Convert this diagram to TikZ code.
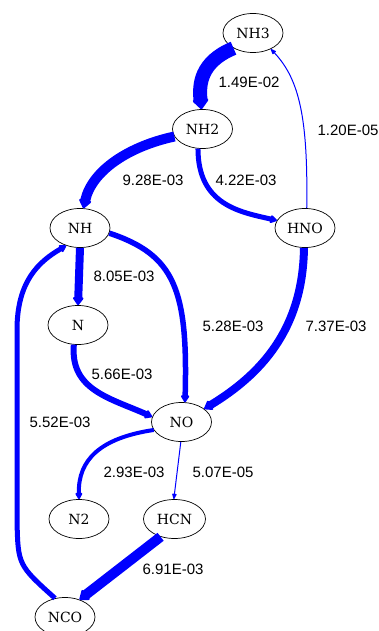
\documentclass[tikz,border=0pt]{standalone}
\usepackage{fontspec}
\setmainfont{DejaVu Serif}
\newfontfamily\lblfont{Liberation Sans}
\usetikzlibrary{arrows.meta,shapes.geometric}
\begin{document}
\begin{tikzpicture}[x=1pt,y=-1pt,
  sp/.style={ellipse,draw,line width=0.7pt,minimum width=60pt,minimum height=39pt,inner sep=0pt,font=\fontsize{14}{16}\selectfont},
  fl/.style={draw=blue,line width=#1,-{Triangle[length=6pt 0.35,width=3.5pt 1.05,round]},fill=none},
  lb/.style={font=\lblfont\fontsize{15}{17}\selectfont,inner sep=0pt}]
\useasboundingbox (0,0) rectangle (379,631);
\node[sp] (NH3) at (253,33) {NH3};
\node[sp] (NH2) at (202.5,129) {NH2};
\node[sp] (NH) at (80,228) {NH};
\node[sp] (HNO) at (305,228) {HNO};
\node[sp] (N) at (78,325) {N};
\node[sp] (NO) at (181.5,422) {NO};
\node[sp] (N2) at (79,519) {N2};
\node[sp,minimum width=62pt] (HCN) at (174.5,519) {HCN};
\node[sp] (NCO) at (65,617) {NCO};
% edges
\draw[fl=14pt] (NH3.218) .. controls (200,62) and (199,85) .. (NH2.93);
\draw[fl=1pt] (HNO.85) .. controls (308,120) and (300,80) .. (NH3.-42);
\draw[fl=10pt] (NH2.195) .. controls (130,146) and (92,170) .. (NH.80);
\draw[fl=5pt] (NH2.257) .. controls (198,205) and (240,212) .. (HNO.165);
\draw[fl=8pt] (NH.south) -- (N.north);
\draw[fl=5.5pt] (NH.-10) .. controls (175,255) and (188,290) .. (NO.80);
\draw[fl=8pt] (HNO.-93) .. controls (303,330) and (260,375) .. (NO.30);
\draw[fl=6pt] (N.258) .. controls (70,390) and (110,398) .. (NO.170);
\coordinate (c1) at (17,520);
\coordinate (c2) at (17,330);
\draw[fl=5pt] (NCO.118) .. controls (18,565) .. (c1) -- (c2) .. controls (17,282) and (38,262) .. (NH.232);
\draw[fl=4pt] (NO.196) .. controls (100,438) and (78,460) .. (N2.north);
\draw[fl=1pt] (NO.268) -- (HCN.92);
\draw[fl=10pt] (HCN.232) -- (NCO.50);
% labels
\node[lb] (l1) at (249,82) {1.49E-02};
\node[lb] (l2) at (348,130) {1.20E-05};
\node[lb] (l3) at (153,180) {9.28E-03};
\node[lb] (l4) at (246,180) {4.22E-03};
\node[lb] (l5) at (124,276) {8.05E-03};
\node[lb] (l6) at (233,326) {5.28E-03};
\node[lb] (l7) at (336,326) {7.37E-03};
\node[lb] (l8) at (122,374) {5.66E-03};
\node[lb] (l9) at (60,422) {5.52E-03};
\node[lb] (l10) at (134,472) {2.93E-03};
\node[lb] (l11) at (223,472) {5.07E-05};
\node[lb] (l12) at (173,569) {6.91E-03};
\end{tikzpicture}
\end{document}
